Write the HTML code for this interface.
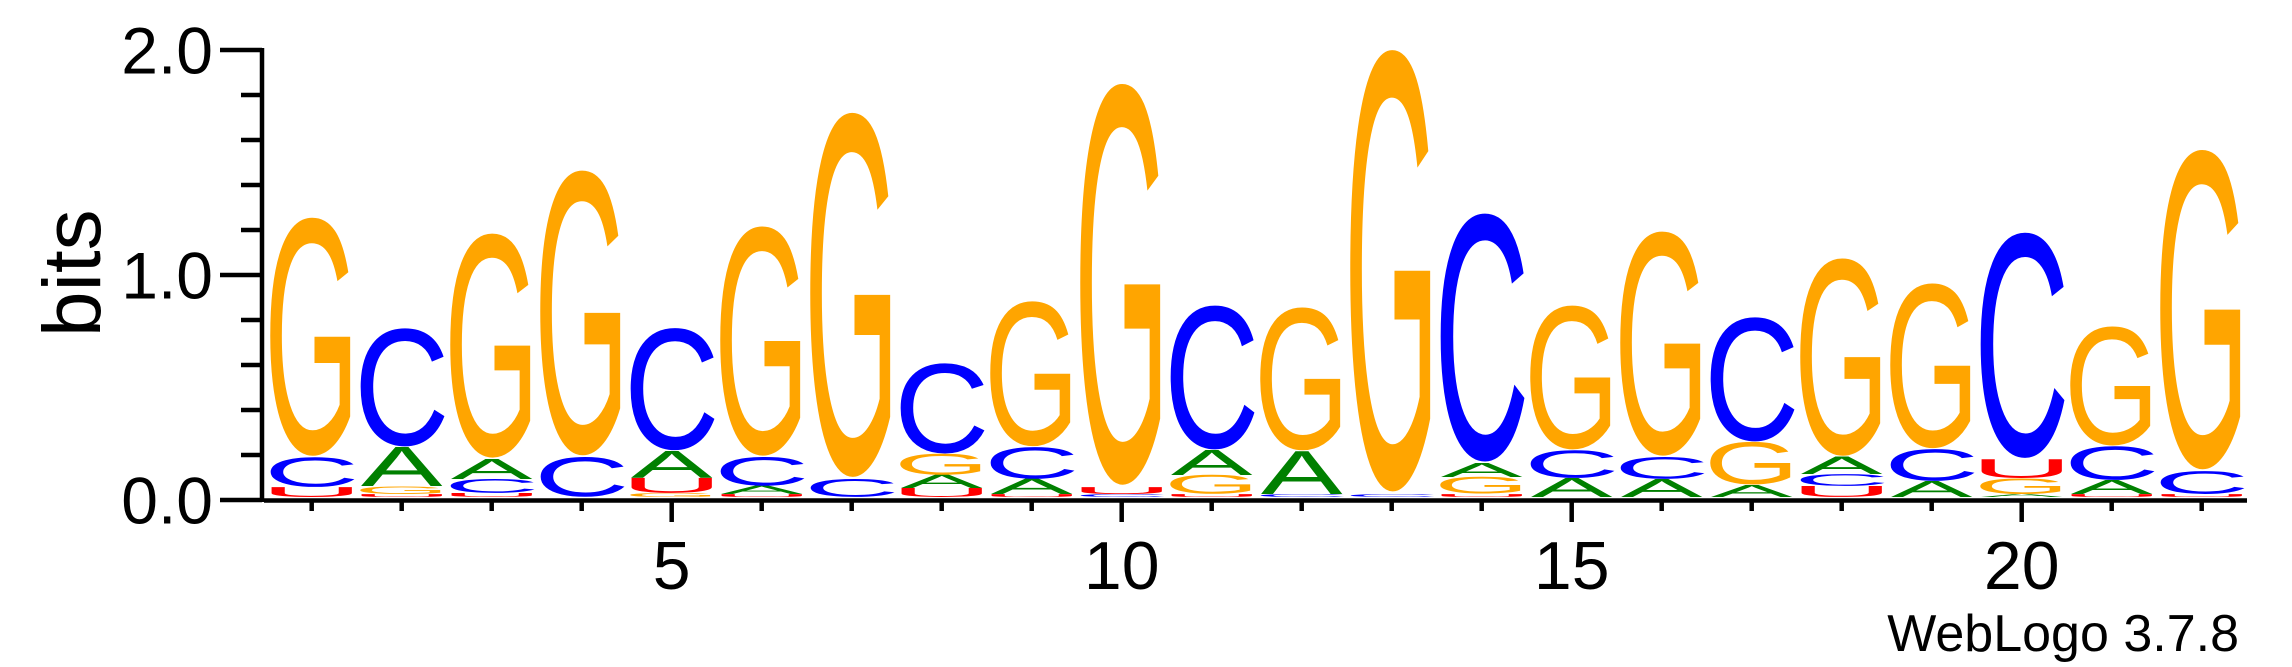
<!DOCTYPE html>
<html><head><meta charset="utf-8"><style>
html,body{margin:0;padding:0;background:#fff;}
svg{display:block;}
text{font-family:"Liberation Sans",Arial,sans-serif;}
</style></head><body>
<svg id="logo" width="2292" height="667" viewBox="0 0 2292 667" xmlns="http://www.w3.org/2000/svg">
<g id="axes"></g>
<g id="marks"></g>
<text x="0" y="0" font-size="82" transform="translate(100,337) rotate(-90)">bits</text>
<text x="2239" y="651" font-size="52" text-anchor="end">WebLogo 3.7.8</text>
</svg>
<script>
// Letters per position (bottom to top) and heights in bits
const positions = [1,2,3,4,5,6,7,8,9,10,11,12,13,14,15,16,17,18,19,20,21,22];
const stackLetters = [
 ["U","C","G"],["U","G","A","C"],["U","C","A","G"],["C","G"],["G","U","A","C"],
 ["U","A","C","G"],["C","G"],["U","A","G","C"],["U","A","C","G"],["C","U","G"],
 ["U","G","A","C"],["C","A","G"],["C","G"],["U","G","A","C"],["A","C","G"],
 ["A","C","G"],["A","G","C"],["U","C","A","G"],["A","C","G"],["A","G","U","C"],
 ["U","A","C","G"],["U","C","G"]
];
const stackBits = [
 [0.044,0.133,1.067],[0.013,0.036,0.173,0.529],[0.018,0.062,0.089,1.004],[0.178,1.276],[0.018,0.067,0.12,0.547],
 [0.013,0.036,0.129,1.027],[0.08,1.631],[0.04,0.058,0.093,0.404],[0.013,0.067,0.142,0.649],[0.013,0.031,1.796],
 [0.013,0.084,0.111,0.644],[0.013,0.191,0.64],[0.013,1.978],[0.013,0.076,0.062,1.111],[0.084,0.124,0.644],
 [0.08,0.098,1.004],[0.053,0.191,0.556],[0.049,0.053,0.076,0.884],[0.071,0.142,0.738],[0.013,0.071,0.084,1.009],
 [0.013,0.062,0.151,0.533],[0.013,0.102,1.431]
];
const yTicks = [0,0.2,0.4,0.6,0.8,1.0,1.2,1.4,1.6,1.8,2.0];
const yTickLabels = ["0.0","","","","","1.0","","","","","2.0"];
const xTickLabels = {5:"5",10:"10",15:"15",20:"20"};

const NS="http://www.w3.org/2000/svg";
const X0=311.7, DX=90, BASE=497, PXB=225;
function xPos(p){return X0+(p-1)*DX;}
function yPos(b){return BASE-b*PXB;}
const colors={G:"#FFA500",C:"#0000FF",A:"#008000",U:"#FF0000"};
const ink={G:0.67,C:0.62,A:0.67,U:0.58};
const capTop={G:0.70,C:0.70,A:0.688,U:0.688};
const capBot={G:0.014,C:0.014,A:0,U:0.014};

const axes=document.getElementById('axes');
function mk(tag,attrs,parent){const e=document.createElementNS(NS,tag);for(const k in attrs)e.setAttribute(k,attrs[k]);parent.appendChild(e);return e;}

// y axis
let el=mk('line',{x1:262,y1:48,x2:262,y2:502,stroke:'#000','stroke-width':4.5},axes);


yTicks.forEach((t,i)=>{
  const y=BASE+3-t*PXB;
  const major=yTickLabels[i]!=="";
  const tk=mk('line',{x1:major?220:241,y1:y,x2:262,y2:y,stroke:'#000','stroke-width':4.5},axes);
  
  
  if(major){
    const tx=mk('text',{x:213,y:y+23.5,'font-size':66,'text-anchor':'end'},axes);
    tx.textContent=yTickLabels[i];
    
    
  }
});
// x axis
el=mk('line',{x1:264,y1:500.5,x2:2247,y2:500.5,stroke:'#000','stroke-width':4.5},axes);


positions.forEach(p=>{
  const x=xPos(p);
  const major=xTickLabels[p]!==undefined;
  const tk=mk('line',{x1:x,y1:500,x2:x,y2:major?522:511,stroke:'#000','stroke-width':4.5},axes);
  
  
  if(major){
    const tx=mk('text',{x:x,y:589,'font-size':68,'text-anchor':'middle'},axes);
    tx.textContent=xTickLabels[p];
    
    
  }
});

// letters
const marks=document.getElementById('marks');
positions.forEach((p,i)=>{
  let cum=0;
  const cx=xPos(p);
  stackLetters[i].forEach((L,j)=>{
    const h=stackBits[i][j]*PXB;
    const bottom=yPos(cum);
    cum+=stackBits[i][j];
    if(h<0.5)return;
    const sx=82/(ink[L]*100);
    const sy=h/((capTop[L]+capBot[L])*100);
    const t=document.createElementNS(NS,'text');
    t.setAttribute('x',0);t.setAttribute('y',0);
    t.setAttribute('font-size',100);
    t.setAttribute('text-anchor','middle');
    t.setAttribute('fill',colors[L]);
    t.setAttribute('transform','translate('+cx+','+(bottom-capBot[L]*100*sy)+') scale('+sx+','+sy+')');
    t.textContent=L;
    
    
    marks.appendChild(t);
  });
});
</script>
</body></html>
